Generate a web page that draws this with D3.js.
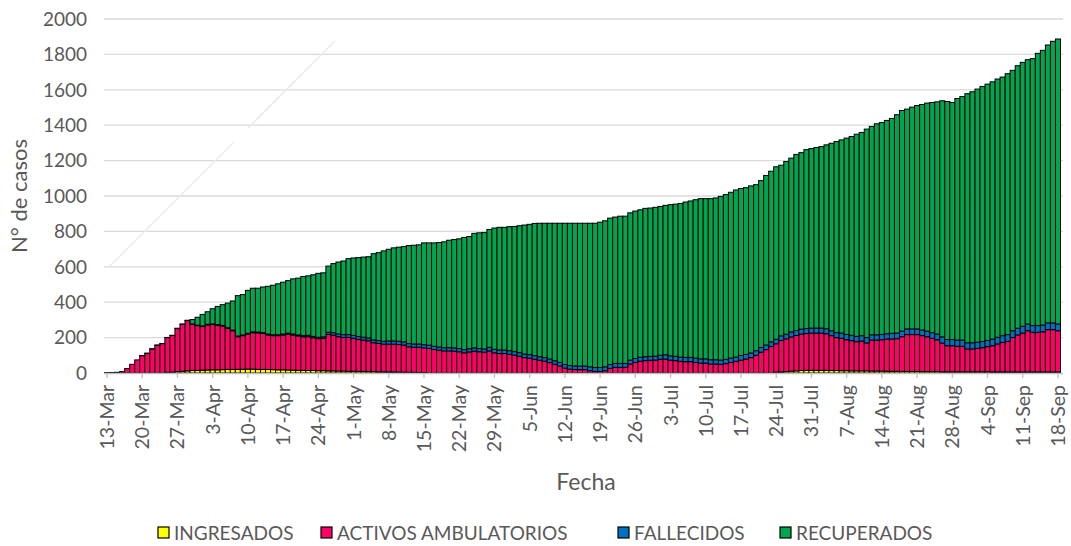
<!DOCTYPE html>
<html>
<head>
<meta charset="utf-8">
<title>Casos</title>
<script src="https://cdn.jsdelivr.net/npm/d3@7"></script>
<style>
  body { margin: 0; background: #fff; }
  svg text { font-family: Lato, "Open Sans", sans-serif; fill: #595959; }
  .grid line { stroke: #d9d9d9; stroke-width: 1.3px; }
  .xaxis path, .xaxis line { stroke: #bfbfbf; stroke-width: 1.3px; }
  .bar { stroke: #000; stroke-width: 1px; }
</style>
</head>
<body>
<script>
// one bar per day, 13-Mar .. 18-Sep
var days = d3.timeDay.range(new Date(2020, 2, 13), new Date(2020, 8, 19));

var tickLabels = ["13-Mar","20-Mar","27-Mar","3-Apr","10-Apr","17-Apr","24-Apr","1-May","8-May",
  "15-May","22-May","29-May","5-Jun","12-Jun","19-Jun","26-Jun","3-Jul","10-Jul","17-Jul","24-Jul",
  "31-Jul","7-Aug","14-Aug","21-Aug","28-Aug","4-Sep","11-Sep","18-Sep"];

var yTicks = [0, 200, 400, 600, 800, 1000, 1200, 1400, 1600, 1800, 2000];

var seriesNames = ["INGRESADOS", "ACTIVOS AMBULATORIOS", "FALLECIDOS", "RECUPERADOS"];
var seriesColors = ["#ffff00", "#ff0066", "#0070c0", "#00a550"];

var ingresados = [
  0,0,0,0,0,0,0,0,0,0,0,0,4,5,8,10,12,14,15,16,
  17,18,18,19,20,20,21,21,22,22,21,20,20,19,18,18,17,16,15,15,
  14,14,13,13,12,12,11,11,10,10,9,9,8,8,7,7,6,6,5,5,
  4,4,3,3,0,0,0,0,0,0,0,0,0,0,0,0,0,0,0,0,
  0,0,0,0,0,0,0,0,0,0,0,0,0,0,0,0,0,0,0,0,
  0,0,0,0,0,0,0,0,0,0,0,0,0,0,0,0,0,0,0,0,
  0,0,0,0,0,0,0,0,0,0,0,0,0,5,6,8,10,12,14,15,
  15,15,15,15,14,14,13,13,12,12,12,12,11,11,11,10,10,10,9,9,
  9,9,8,8,8,8,7,7,7,7,7,7,7,7,7,7,6,6,6,6,
  6,6,6,6,6,6,6,6,6,6];

var activos = [
  2,3,4,8,25,49,74,98,111,136,157,166,196,207,243,265,284,261,253,248,
  255,256,252,247,233,219,184,190,198,206,206,204,195,192,193,197,203,199,194,190,
  191,185,181,183,206,202,194,190,191,186,181,177,174,163,160,156,157,157,156,153,
  144,142,143,139,139,133,129,125,125,124,120,114,119,124,120,118,125,114,110,110,
  106,101,95,87,84,78,72,67,59,49,40,28,22,20,19,19,13,9,9,13,
  26,32,32,32,51,60,67,70,72,73,78,79,73,70,66,64,64,60,56,56,
  51,51,49,53,60,66,73,79,87,100,118,132,150,160,178,185,194,200,206,208,
  211,211,211,207,197,186,183,175,171,165,169,158,175,175,177,182,182,184,196,208,
  208,208,203,197,188,180,162,147,147,144,144,129,129,132,136,142,148,158,167,173,
  195,209,220,233,224,224,227,239,239,233];

var fallecidos = [
  0,0,0,0,0,0,0,1,1,1,1,1,1,1,2,2,2,2,2,2,
  3,3,3,3,3,3,4,4,4,4,4,4,5,5,5,5,5,5,6,6,
  8,8,8,8,12,14,16,16,16,16,16,16,16,16,16,16,18,18,18,18,
  18,18,18,18,18,18,18,18,18,18,18,18,18,18,18,18,20,20,20,20,
  20,20,20,20,20,20,20,20,20,20,20,20,20,20,20,20,22,22,22,22,
  22,22,22,22,22,22,22,22,22,22,22,24,24,24,24,24,24,24,24,24,
  24,24,24,24,24,24,26,26,26,26,26,26,26,26,26,26,28,28,28,28,
  28,28,28,28,28,28,30,30,30,30,30,30,30,30,30,30,32,32,32,32,
  32,32,32,32,32,32,35,35,35,35,35,35,35,35,35,35,38,38,38,38,
  38,38,38,38,38,38,38,38,38,38];

var recuperados = [
  0,0,0,0,0,0,0,0,0,0,0,0,0,0,0,0,0,25,45,65,
  71,86,103,117,139,165,228,228,243,247,248,258,270,280,288,293,297,312,321,334,
  336,348,361,362,374,390,406,416,429,438,446,453,459,487,497,511,518,526,532,538,
  554,558,560,575,578,584,590,598,607,612,620,634,634,647,654,658,666,685,693,693,
  701,707,717,729,736,747,754,759,767,777,786,798,804,806,807,807,811,815,821,825,
  827,827,832,832,832,833,833,838,838,841,841,844,854,860,868,878,884,895,905,905,
  910,914,925,931,937,944,943,942,944,938,943,958,964,974,964,976,982,995,997,1011,
  1014,1020,1025,1039,1059,1080,1091,1109,1123,1142,1148,1178,1177,1192,1197,1205,1214,1233,1246,1242,
  1253,1262,1274,1288,1300,1312,1334,1345,1339,1365,1376,1407,1418,1430,1441,1448,1453,1459,1461,1474,
  1471,1483,1491,1493,1508,1538,1552,1570,1591,1610];

var W = 1071, H = 546;
var svg = d3.select("body").append("svg").attr("width", W).attr("height", H);

var rows = days.map(function(d, i) {
  return { i: i, INGRESADOS: ingresados[i], "ACTIVOS AMBULATORIOS": activos[i],
           FALLECIDOS: fallecidos[i], RECUPERADOS: recuperados[i] };
});

var x = d3.scaleBand().domain(d3.range(days.length)).range([104.5, 1060.5]).padding(0);
var y = d3.scaleLinear().domain([0, 2000]).range([373, 19]);

// gridlines
svg.append("g").attr("class", "grid")
  .selectAll("line").data(yTicks.slice(1)).enter().append("line")
    .attr("x1", 104).attr("x2", 1063)
    .attr("y1", function(d) { return y(d); }).attr("y2", function(d) { return y(d); });

// faint stray stroke that sits in the original picture
svg.append("line").attr("x1", 110).attr("y1", 266).attr("x2", 335).attr("y2", 41)
  .attr("stroke", "#ebebeb").attr("stroke-width", 1.6)
  .attr("stroke-dasharray", "175,20,200");

// y labels
svg.append("g").selectAll("text").data(yTicks).enter().append("text")
  .attr("x", 87).attr("y", function(d) { return y(d); }).attr("dy", "0.36em")
  .attr("text-anchor", "end").style("font-size", "19px")
  .text(function(d) { return d; });

var stack = d3.stack().keys(seriesNames);
var layers = stack(rows);

svg.append("g").selectAll("g").data(layers).enter().append("g")
    .attr("fill", function(d, i) { return seriesColors[i]; })
  .selectAll("rect").data(function(d) { return d; }).enter().append("rect")
    .attr("class", "bar")
    .attr("x", function(d, i) { return x(i); })
    .attr("width", x.bandwidth())
    .attr("y", function(d) { return y(d[1]); })
    .attr("height", function(d) { return y(d[0]) - y(d[1]); });

// x axis
var tickIdx = d3.range(0, days.length, 7);
var xAxis = d3.axisBottom(x).tickValues(tickIdx).tickSizeOuter(0).tickSize(5)
  .tickFormat(function(d) { return tickLabels[d / 7]; });
var gx = svg.append("g").attr("class", "xaxis").attr("transform", "translate(0,373)").call(xAxis);
gx.select(".domain").attr("d", "M104,0.5H1063");
gx.selectAll("text")
  .attr("transform", "rotate(-90)")
  .attr("text-anchor", "end")
  .attr("x", -12).attr("y", 0).attr("dy", "0.36em")
  .style("font-size", "19.5px").style("font-family", "Lato, sans-serif").attr("fill", "#595959");

// axis titles
svg.append("text").attr("transform", "translate(27,196) rotate(-90)")
  .attr("text-anchor", "middle").style("font-size", "22px").text("N° de casos");
svg.append("text").attr("x", 586).attr("y", 490)
  .attr("text-anchor", "middle").style("font-size", "23px").text("Fecha");

// legend
var legendX = [158, 321, 618, 780];
var lg = svg.append("g").selectAll("g").data(seriesNames).enter().append("g")
  .attr("transform", function(d, i) { return "translate(" + legendX[i] + ",527)"; });
lg.append("rect").attr("width", 11).attr("height", 11)
  .attr("fill", function(d, i) { return seriesColors[i]; })
  .attr("stroke", "#000").attr("stroke-width", 1.2);
lg.append("text").attr("x", 16).attr("y", 6).attr("dy", "0.36em")
  .style("font-size", "19px").text(function(d) { return d; });
</script>
</body>
</html>
